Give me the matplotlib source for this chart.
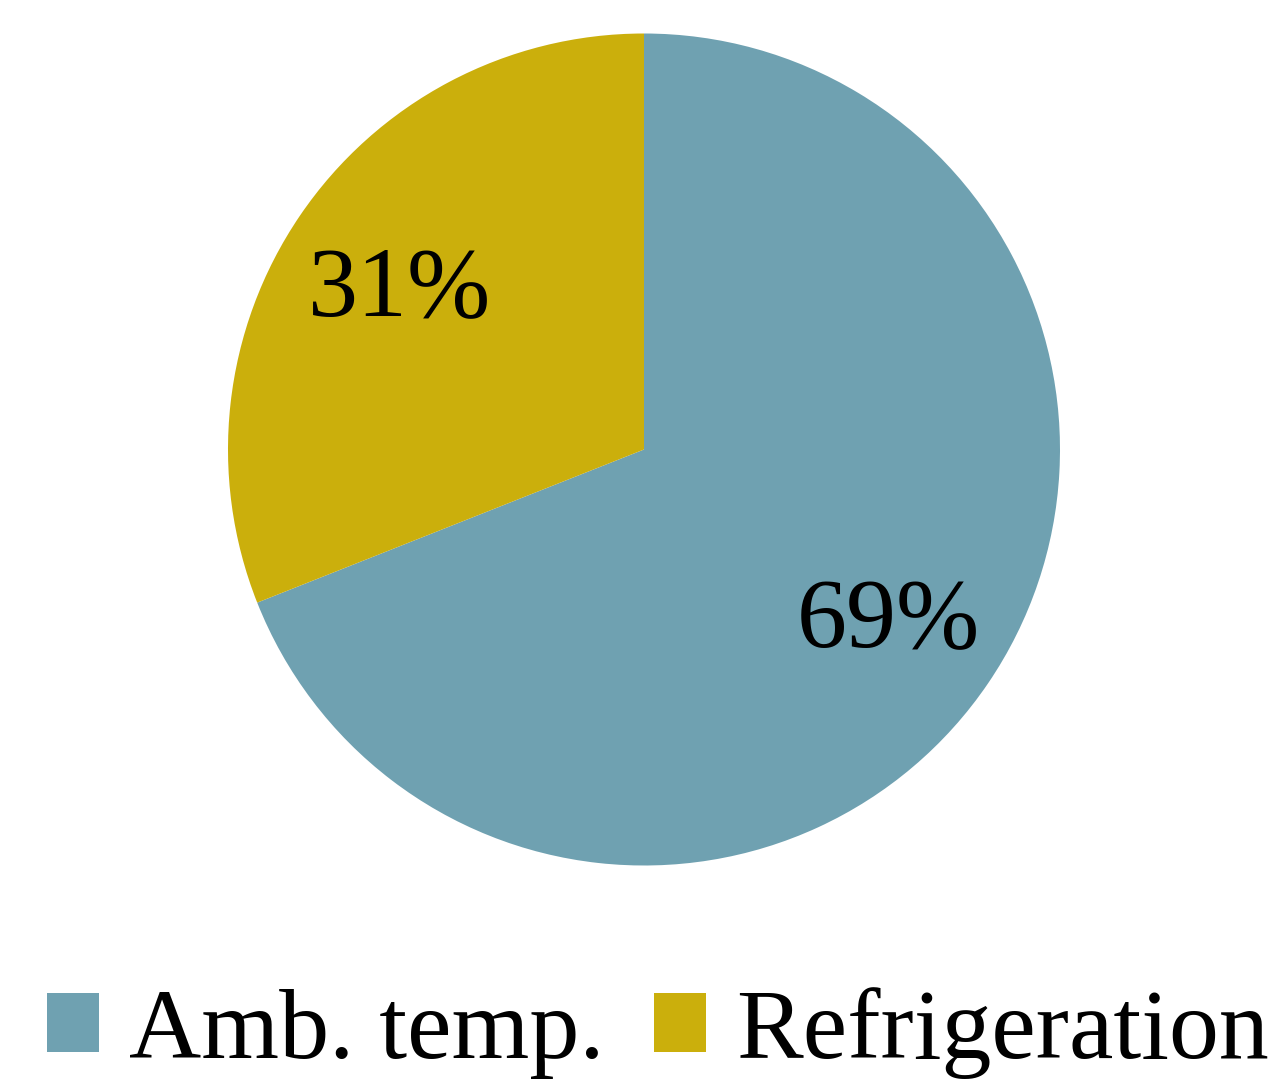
import matplotlib
matplotlib.use("Agg")
import matplotlib.pyplot as plt
import matplotlib.transforms as mtransforms
from matplotlib.patches import Patch

labels = ["Amb. temp.", "Refrigeration"]
shares = [69, 31]
colors = ["#6FA1B1", "#CBAF0C"]

plt.rcParams["font.family"] = ["Liberation Serif", "DejaVu Serif"]

fig = plt.figure(figsize=(12.85, 10.79), dpi=100)
ax = fig.add_axes([228 / 1285, 1 - 866 / 1079, 832 / 1285, 833 / 1079])

wedges, _, autotexts = ax.pie(
    shares,
    colors=colors,
    startangle=90,
    counterclock=False,
    autopct="%d%%",
    pctdistance=0.71,
    wedgeprops=dict(linewidth=0),
    textprops=dict(fontsize=72, color="black"),
)
# nudge the percentage labels slightly downward
shift = mtransforms.offset_copy(ax.transData, fig=fig, x=0, y=-8, units="dots")
for t in autotexts:
    t.set_transform(shift)

ax.set_xlim(-1, 1)
ax.set_ylim(-1, 1)
ax.set_aspect("equal")
ax.axis("off")

handles = [Patch(facecolor=c, edgecolor="none") for c in colors]
fig.legend(
    handles,
    labels,
    loc="lower center",
    bbox_to_anchor=(0.512, -0.037),
    ncol=2,
    frameon=False,
    fontsize=72,
    handlelength=0.52,
    handleheight=0.52,
    handletextpad=0.3,
    columnspacing=0.5,
    borderaxespad=0,
)

fig.savefig("out.png", dpi=100)
